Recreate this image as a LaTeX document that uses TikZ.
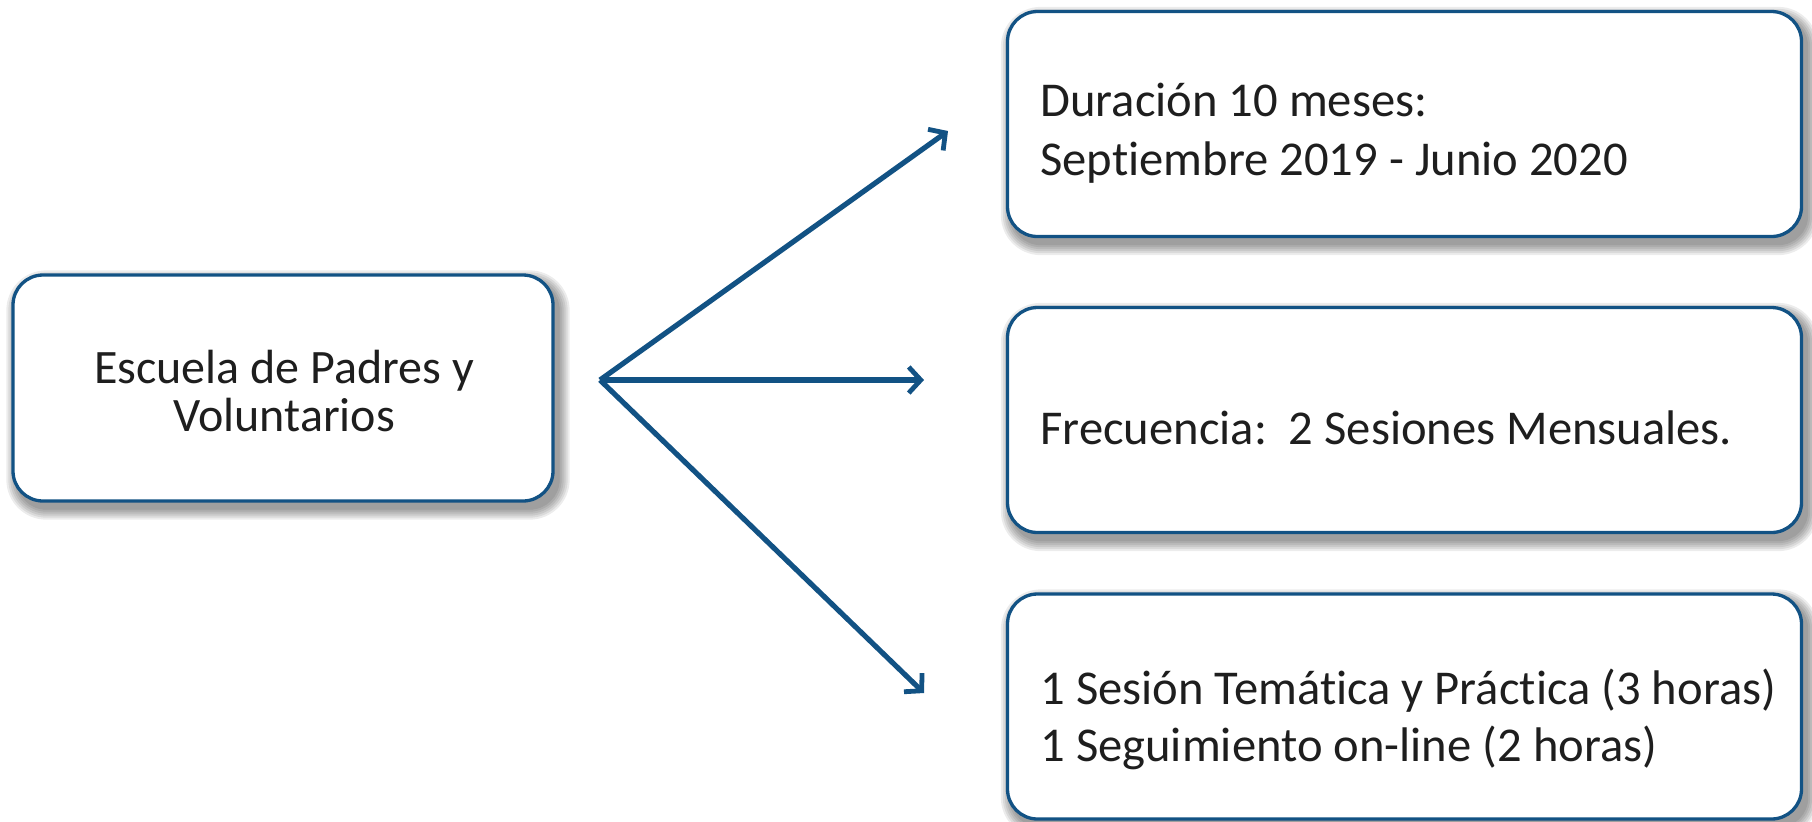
\documentclass[tikz,border=0pt]{standalone}
\usepackage{fontspec}
\setmainfont{Carlito}[Ligatures=CommonOff]
\usetikzlibrary{arrows.meta,backgrounds}
\definecolor{dblue}{RGB}{18,82,132}
\definecolor{txt}{RGB}{30,30,30}
\tikzset{
  boxbase/.style={draw=dblue,line width=1.65pt,fill=white,rounded corners=15pt,inner sep=0pt},
  leftbox/.style={boxbase,minimum width=270pt,minimum height=113pt},
  rightbox/.style={boxbase,minimum width=397pt,minimum height=112.5pt},
  ltext/.style={text=txt,font=\fontsize{24}{29}\selectfont,inner sep=0pt},
  rtext/.style={text=txt,font=\fontsize{24.3}{29}\selectfont,inner sep=0pt},
  conn/.style={draw=dblue,line width=2.6pt,
    -{Straight Barb[length=6pt,width=13pt,line width=2.4pt]}}
}
\newcommand\boxshadow[1]{%
  \begin{pgfonlayer}{background}
  \foreach \e/\r in {0/15pt,1/16pt,2/17pt,3/18pt,4/19pt,5/20pt}{%
    \fill[black,opacity=0.075,rounded corners=\r]
      ([xshift={(2.5-\e)*1pt},yshift={(-3.5-\e)*1pt}]#1.south west) rectangle
      ([xshift={(2.5+\e)*1pt},yshift={(-3.5+\e)*1pt}]#1.north east);
  }
  \end{pgfonlayer}}
\begin{document}
\begin{tikzpicture}[x=0.5pt,y=-0.5pt]
\begin{pgfonlayer}{background}
\path[fill=white] (0,0) rectangle (1812,821);
\end{pgfonlayer}
\useasboundingbox (0,0) rectangle (1812,821);
% boxes
\node[leftbox] (src) at (283,388) {};
\node[rightbox] (b1) at (1404.5,124) {};
\node[rightbox] (b2) at (1404.5,420) {};
\node[rightbox] (b3) at (1404.5,706.5) {};
\boxshadow{src}\boxshadow{b1}\boxshadow{b2}\boxshadow{b3}
% texts
\node[ltext,anchor=base] (s1) at (284,383.5) {Escuela de Padres y};
\node[ltext,anchor=base] (s2) at (284,431.5) {Voluntarios};
\node[rtext,anchor=base west] (t1a) at (1040,116) {Duración 10 meses:};
\node[rtext,anchor=base west] (t1b) at (1040,175) {Septiembre 2019 - Junio 2020};
\node[rtext,anchor=base west] (t2) at (1040,444) {Frecuencia:\ \ 2 Sesiones Mensuales.};
\node[rtext,anchor=base west] (t3a) at (1040,704) {1 Sesión Temática y Práctica (3 horas)};
\node[rtext,anchor=base west] (t3b) at (1040,761) {1 Seguimiento on-line (2 horas)};
% connectors
\coordinate (hub) at (600,380);
\coordinate (e1) at (948,131);
\coordinate (e2) at (924,380);
\coordinate (e3) at (924,693);
\draw[conn] (hub) -- (e1);
\draw[conn] (hub) -- (e2);
\draw[conn] (hub) -- (e3);
\end{tikzpicture}
\end{document}
